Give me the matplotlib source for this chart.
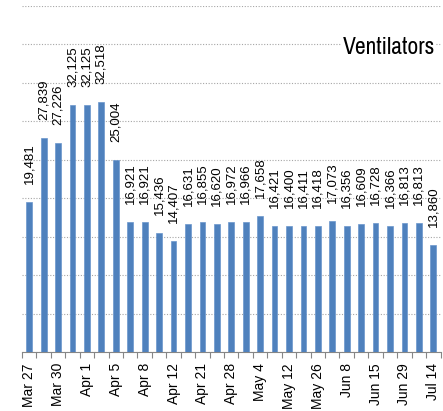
import matplotlib
matplotlib.use("Agg")
import matplotlib.pyplot as plt
import numpy as np

values = [19481, 27839, 27226, 32125, 32125, 32518, 25004, 16921, 16921, 15436,
          14407, 16631, 16855, 16620, 16972, 16966, 17658, 16421, 16400, 16411,
          16418, 17073, 16356, 16609, 16728, 16366, 16813, 16813, 13860]
tick_labels = ["Mar 27", "Mar 30", "Apr 1", "Apr 5", "Apr 8", "Apr 12", "Apr 21",
               "Apr 28", "May 4", "May 12", "May 26", "Jun 8", "Jun 15", "Jun 29", "Jul 14"]
title = "Ventilators"

plt.rcParams['font.family'] = ['Liberation Sans', 'DejaVu Sans']

fig = plt.figure(figsize=(4.43, 4.11), dpi=100)
ax = fig.add_axes([22/443, 59/411, (440.5-22)/443, 346/411])

x = np.arange(len(values))
ax.bar(x, values, width=0.4, color='#4f81bd', edgecolor='#6b96cc', linewidth=0.5, zorder=3)

for xi, v in zip(x, values):
    ax.annotate(f"{v:,}", xy=(xi, v), xytext=(0, 18), textcoords='offset pixels',
                rotation=90, ha='center', va='bottom', fontsize=9.5, color='#000000')

ax.set_xlim(-0.5, len(values) - 0.5)
ax.set_ylim(0, 45000)
ax.set_yticks(np.arange(0, 45001, 5000))
ax.yaxis.grid(True, linestyle=(0, (1, 1.5)), color='#a6a6a6', linewidth=0.8, zorder=0)
ax.tick_params(axis='y', length=0, labelleft=False)

ax.set_xticks(x[::2])
ax.set_xticklabels(tick_labels, rotation=90, fontsize=10)
ax.set_xticks(np.arange(-0.5, len(values), 1.0), minor=True)
ax.tick_params(axis='x', which='major', length=0, pad=8)
ax.tick_params(axis='x', which='minor', length=4, width=0.8, color='#868686')

for s in ['top', 'right', 'left']:
    ax.spines[s].set_visible(False)
ax.spines['bottom'].set_color('#868686')
ax.spines['bottom'].set_linewidth(0.8)

fig.text(435/443, 1 - 48/411, title, ha='right', va='center', fontsize=17,
         family=['Archivo Narrow', 'Roboto Condensed', 'DejaVu Sans'],
         bbox=dict(facecolor='white', edgecolor='none', pad=1))

fig.savefig("out.png", dpi=100)
